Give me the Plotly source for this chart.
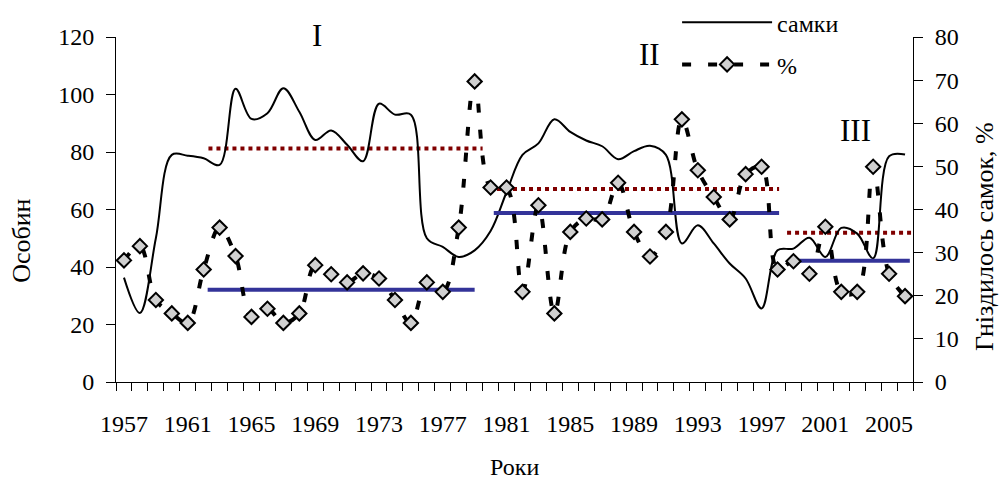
import plotly.graph_objects as go

# ---------------- data ----------------
years = list(range(1957, 2007))
females = [36.3, 24.0, 50.0, 79.0, 78.7, 77.8, 75.5, 102.0, 91.5, 93.5,
           102.2, 94.0, 84.2, 87.5, 82.5, 76.8, 96.8, 93.0, 93.0, 50.0,
           47.0, 43.5, 45.8, 52.5, 66.0, 79.0, 83.0, 91.4, 87.0, 84.0,
           82.0, 77.5, 80.3, 82.2, 79.0, 48.2, 54.5, 48.2, 41.2, 36.0,
           25.6, 45.8, 46.4, 50.2, 43.5, 53.6, 51.6, 43.0, 78.5, 79.1]
percent = [28.2, 31.5, 19.0, 15.9, 13.7, 26.1, 35.8, 29.2, 15.1, 17.0,
           13.7, 15.9, 27.1, 25.0, 23.1, 25.2, 24.0, 19.0, 13.7, 23.1,
           20.9, 35.8, 69.7, 45.1, 45.1, 20.9, 41.0, 15.9, 34.8, 37.9,
           37.7, 46.2, 34.8, 29.1, 34.8, 60.9, 49.1, 42.9, 37.7, 48.2,
           49.9, 26.1, 28.0, 25.1, 36.0, 20.9, 20.9, 49.9, 25.1, 19.9]
tick_years = list(range(1957, 2006, 4))

periods = ["I", "II", "III"]
period_label_x = [1969.1, 1990.0, 2002.9]
period_label_y = [120.6, 114.0, 87.6]   # in left-axis units

# mean levels of females (left axis) per period
red_levels = [81.2, 67.1, 51.9]
red_x0 = [1962.3, 1979.9, 1998.6]
red_x1 = [1979.5, 1998.1, 2006.5]
# mean levels of % (right axis) per period
blue_levels = [21.4, 39.2, 28.1]
blue_x0 = [1962.25, 1980.2, 1998.9]
blue_x1 = [1979.0, 1998.1, 2006.3]

FONT = "Liberation Serif"
Y_MAX = 120

fig = go.Figure()

for lv, a, b in zip(red_levels, red_x0, red_x1):
    fig.add_trace(go.Scatter(x=[a, b], y=[lv, lv], mode="lines",
                             line=dict(color="#800000", width=4, dash="dot"),
                             showlegend=False, hoverinfo="skip", yaxis="y"))

fig.add_trace(go.Scatter(x=years, y=females, mode="lines", name="самки",
                         line=dict(color="black", width=2, shape="spline"),
                         yaxis="y", legendgroup="a"))

for lv, a, b in zip(blue_levels, blue_x0, blue_x1):
    fig.add_trace(go.Scatter(x=[a, b], y=[lv, lv], mode="lines",
                             line=dict(color="#333399", width=4),
                             showlegend=False, hoverinfo="skip", yaxis="y2"))

fig.add_trace(go.Scatter(x=years, y=percent, mode="lines+markers", name="%",
                         line=dict(color="black", width=4, dash="9px,17px", shape="spline"),
                         marker=dict(symbol="diamond", size=11, color="#d0d0d0",
                                     line=dict(color="black", width=2)),
                         yaxis="y2", legendgroup="b"))

for t, x, y in zip(periods, period_label_x, period_label_y):
    fig.add_annotation(x=x, y=y / Y_MAX, xref="x", yref="paper", text=t, showarrow=False,
                       xanchor="center", yanchor="middle",
                       font=dict(family=FONT, size=31, color="black"))

# axis titles
fig.add_annotation(x=-0.118, y=0.409, xref="paper", yref="paper", text="Особин",
                   textangle=-90, showarrow=False, xanchor="center", yanchor="middle",
                   font=dict(family=FONT, size=26, color="black"))
fig.add_annotation(x=1.0891, y=0.42, xref="paper", yref="paper", text="Гніздилось самок, %",
                   textangle=-90, showarrow=False, xanchor="center", yanchor="middle",
                   font=dict(family=FONT, size=26, color="black"))
fig.add_annotation(x=0.4994, y=-0.245, xref="paper", yref="paper", text="Роки",
                   showarrow=False, xanchor="center", yanchor="middle",
                   font=dict(family=FONT, size=24, color="black"))

xr = [1956.5, 2006.5]
common = dict(showgrid=False, zeroline=False)

fig.update_layout(
    width=999, height=481,
    margin=dict(l=116, r=86, t=37, b=99, autoexpand=False),
    paper_bgcolor="white", plot_bgcolor="white",
    font=dict(family=FONT, size=24, color="black"),
    legend=dict(x=0.704, y=1.107, xanchor="left", yanchor="top",
                bgcolor="rgba(0,0,0,0)", itemwidth=90, tracegroupgap=8,
                font=dict(family=FONT, size=24, color="black")),
    xaxis=dict(range=xr, tickmode="array", tickvals=tick_years,
               ticktext=[str(v) for v in tick_years], ticks="",
               showline=True, linecolor="black", linewidth=1,
               ticklabelstandoff=20,
               minor=dict(ticks="outside", ticklen=8, tickcolor="black", tickwidth=1,
                          tickmode="linear", tick0=1956.5, dtick=1, showgrid=False),
               **common),
    xaxis3=dict(range=xr, overlaying="x", anchor="y", tickmode="linear", tick0=1956.5,
                dtick=1, ticks="inside", ticklen=8, tickcolor="black",
                showticklabels=False, showline=False, **common),
    yaxis=dict(range=[0, Y_MAX], tickmode="linear", tick0=0, dtick=20, ticks="outside",
               ticklen=9, tickcolor="black", showline=True, linecolor="black",
               ticklabelstandoff=7, **common),
    yaxis3=dict(range=[0, Y_MAX], overlaying="y", side="left", anchor="x", tickmode="linear",
                tick0=0, dtick=20, ticks="inside", ticklen=9, tickcolor="black",
                showticklabels=False, showline=False, **common),
    yaxis2=dict(range=[0, 80], overlaying="y", side="right", anchor="x", tickmode="linear",
                tick0=0, dtick=10, ticks="outside", ticklen=9, tickcolor="black",
                showline=True, linecolor="black", ticklabelstandoff=7, **common),
    yaxis4=dict(range=[0, 80], overlaying="y", side="right", anchor="x", tickmode="linear",
                tick0=0, dtick=10, ticks="inside", ticklen=9, tickcolor="black",
                showticklabels=False, showline=False, **common),
)

fig.write_html("out.html", config={"displayModeBar": False},
               post_script="document.body.style.margin='0';document.body.style.overflow='hidden';")
